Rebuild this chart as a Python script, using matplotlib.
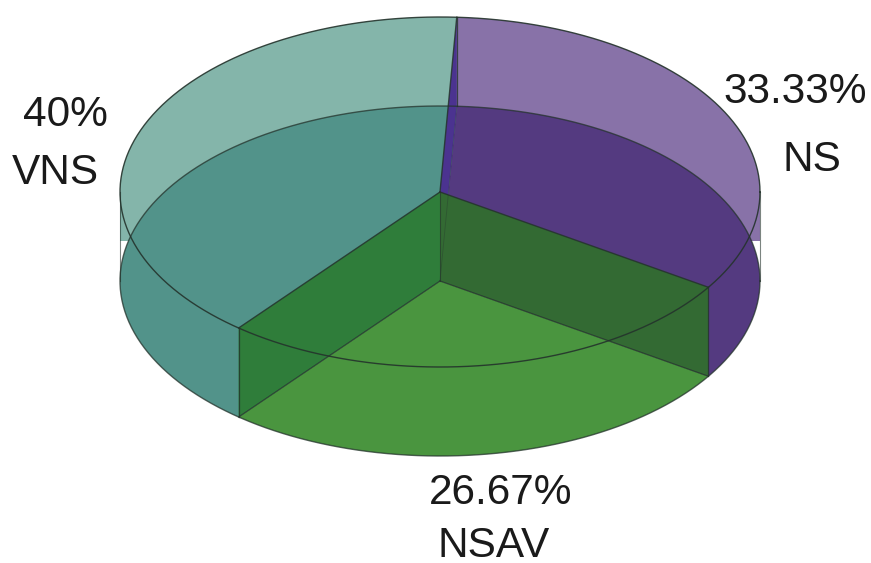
import numpy as np
import matplotlib
matplotlib.use("Agg")
import matplotlib.pyplot as plt
from matplotlib.patches import Polygon

plt.rcParams["font.family"] = ["Liberation Sans", "DejaVu Sans"]

nama = ["NS", "NSAV", "VNS"]
persen = [33.33, 26.67, 40.0]
label_persen = ["33.33%", "26.67%", "40%"]

warna_atas = ["#8872A8", "none", "#84B5AA"]
warna_bawah = ["#543A80", "#4A953F", "#52938A"]
warna_dinding = {"NS": "#336A33", "NSAV": "#2F7D3A"}
warna_garis = "#24332C"

# disc geometry in pixels
cx, cy_atas, cy_bawah = 440, 192, 281
rx, ry = 320, 175
mulai = 87.0

fig = plt.figure(figsize=(8.71, 5.63), dpi=100)
ax = fig.add_axes([0, 0, 1, 1])
ax.set_xlim(0, 871)
ax.set_ylim(563, 0)
ax.axis("off")


def titik(sudut, cy):
    t = np.radians(sudut)
    return cx + rx * np.cos(t), cy - ry * np.sin(t)


def busur(a, b, cy):
    x, y = titik(np.linspace(a, b, 200), cy)
    return np.column_stack([x, y])


def juring(a, b, cy):
    return np.vstack([[cx, cy], busur(a, b, cy)])


def dinding(sudut):
    x, y1 = titik(sudut, cy_atas)
    _, y2 = titik(sudut, cy_bawah)
    return [(cx, cy_atas), (x, y1), (x, y2), (cx, cy_bawah)]


# slice boundaries, clockwise from the back of the disc
batas = mulai - np.cumsum([0] + persen) * 3.6

# upper faces with the far rim strip, then the lower faces over them
for i in range(3):
    a, b = batas[i], batas[i + 1]
    if warna_atas[i] != "none":
        ax.add_patch(Polygon(juring(a, b, cy_atas), fc=warna_atas[i], ec="none", zorder=1))
    ax.add_patch(Polygon(juring(a, b, cy_bawah), fc=warna_bawah[i], ec="none", zorder=2))

ax.fill_between([cx - rx, cx - rx + 12], cy_atas, cy_bawah - 40, color=warna_atas[2], lw=0, zorder=1)
ax.fill_between([cx + rx - 12, cx + rx], cy_atas, cy_bawah - 40, color=warna_atas[0], lw=0, zorder=1)

# inner walls
ax.add_patch(Polygon(dinding(batas[0]), fc="#4B3390", ec="none", zorder=3))
ax.add_patch(Polygon(dinding(batas[1]), fc=warna_dinding["NS"], ec="none", zorder=4))
ax.add_patch(Polygon(dinding(batas[2]), fc=warna_dinding["NSAV"], ec="none", zorder=4))

# outlines
ax.plot(*busur(0, 360, cy_atas).T, color=warna_garis, lw=1.0, alpha=0.9, zorder=6)
ax.plot(*busur(0, 360, cy_bawah).T, color=warna_garis, lw=1.0, alpha=0.75, zorder=6)
for sudut in batas[:3]:
    x, y1 = titik(sudut, cy_atas)
    _, y2 = titik(sudut, cy_bawah)
    ax.plot([cx, x], [cy_atas, y1], color=warna_garis, lw=1.0, alpha=0.85, zorder=6)
    ax.plot([x, x], [y1, y2], color=warna_garis, lw=0.9, alpha=0.8, zorder=6)
for sudut in batas[1:3]:
    x, y2 = titik(sudut, cy_bawah)
    ax.plot([cx, x], [cy_bawah, y2], color=warna_garis, lw=0.9, alpha=0.8, zorder=6)
x, y2 = titik(batas[0], cy_bawah)
ax.plot([cx, x], [cy_bawah, y2], color=warna_garis, lw=0.6, alpha=0.35, zorder=6)
ax.plot([cx, cx], [cy_atas, cy_bawah], color=warna_garis, lw=0.8, alpha=0.6, zorder=6)
for xs in (cx - rx, cx + rx):
    ax.plot([xs, xs], [cy_atas, cy_bawah], color=warna_garis, lw=0.8, alpha=0.6, zorder=6)

# labels
posisi = [((795, 92), (812, 160)), ((501, 493), (494, 546)), ((65, 115), (55, 173))]
for i in range(3):
    ax.text(*posisi[i][0], label_persen[i], fontsize=30.5, color="#1a1a1a",
            ha="center", va="center", zorder=7)
    ax.text(*posisi[i][1], nama[i], fontsize=30.5, color="#1a1a1a",
            ha="center", va="center", zorder=7)

fig.savefig("out.png", dpi=100)
plt.close(fig)
